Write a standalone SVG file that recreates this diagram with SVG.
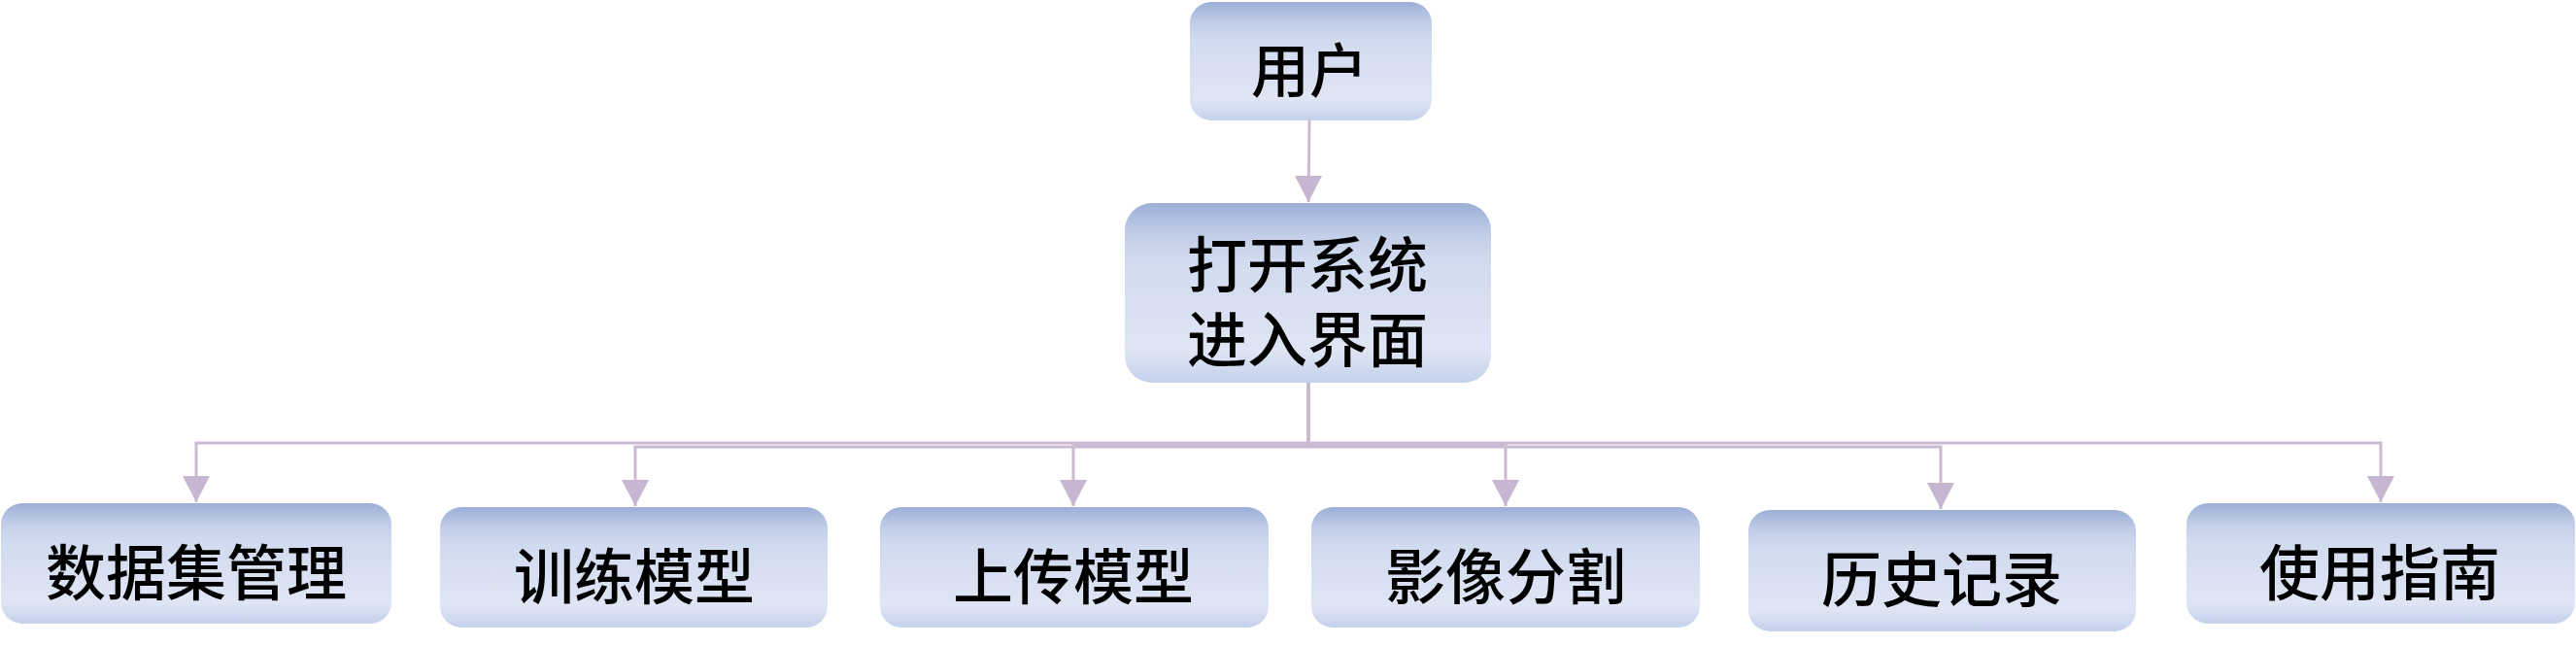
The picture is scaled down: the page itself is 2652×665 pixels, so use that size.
<svg xmlns="http://www.w3.org/2000/svg" width="2652" height="665" viewBox="0 0 2652 665">
<defs>
<linearGradient id="g" x1="0" y1="0" x2="0" y2="1">
<stop offset="0" stop-color="#9DAFD7"/>
<stop offset="0.18" stop-color="#C3CFE9"/>
<stop offset="0.32" stop-color="#D1DBEF"/>
<stop offset="0.82" stop-color="#DFE5F4"/>
<stop offset="1" stop-color="#C4D1EC"/>
</linearGradient>
<marker id="ah" markerUnits="userSpaceOnUse" markerWidth="28" markerHeight="28" viewBox="0 0 28 28" refX="14" refY="27" orient="0">
<path d="M0,0 L28,0 L14,27 Z" fill="#C6B6CF"/>
</marker>
<style>
.box{fill:url(#g);}
.t{font-family:"Noto Sans CJK SC","Noto Sans CJK JP",sans-serif;font-size:62px;font-weight:500;fill:#000;text-anchor:middle;dominant-baseline:central;}
.c{fill:none;stroke:#CABBD2;stroke-width:3;marker-end:url(#ah);}
</style>
</defs>
<g id="connectors">
<path class="c" d="M1348,124 L1347,208"/>
<path class="c" d="M1347,394 L1347,456 L202,456 L202,517"/>
<path class="c" d="M1347,394 L1347,460 L654,460 L654,521"/>
<path class="c" d="M1347,394 L1347,458 L1105,458 L1105,521"/>
<path class="c" d="M1347,394 L1347,458 L1550,458 L1550,521"/>
<path class="c" d="M1347,394 L1347,460 L1998,460 L1998,524"/>
<path class="c" d="M1347,394 L1347,456 L2451,456 L2451,517"/>
</g>
<g id="user">
<rect class="box" x="1225" y="2" width="249" height="122" rx="22"/>
<text class="t" x="1348" y="68" style="font-size:60px">用户</text>
</g>
<g id="open">
<rect class="box" x="1158" y="209" width="377" height="185" rx="28"/>
<text class="t" x="1346" y="269">打开系统<tspan x="1346" dy="77">进入界面</tspan></text>
</g>
<g id="dataset">
<rect class="box" x="1" y="518" width="402" height="124" rx="22"/>
<text class="t" x="202" y="586">数据集管理</text>
</g>
<g id="train">
<rect class="box" x="453" y="522" width="399" height="124" rx="22"/>
<text class="t" x="653" y="590">训练模型</text>
</g>
<g id="upload">
<rect class="box" x="906" y="522" width="400" height="124" rx="22"/>
<text class="t" x="1105" y="590">上传模型</text>
</g>
<g id="segment">
<rect class="box" x="1350" y="522" width="400" height="124" rx="22"/>
<text class="t" x="1550" y="590">影像分割</text>
</g>
<g id="history">
<rect class="box" x="1800" y="525" width="399" height="125" rx="22"/>
<text class="t" x="1999" y="593">历史记录</text>
</g>
<g id="guide">
<rect class="box" x="2251" y="518" width="400" height="124" rx="22"/>
<text class="t" x="2450" y="586">使用指南</text>
</g>
</svg>
